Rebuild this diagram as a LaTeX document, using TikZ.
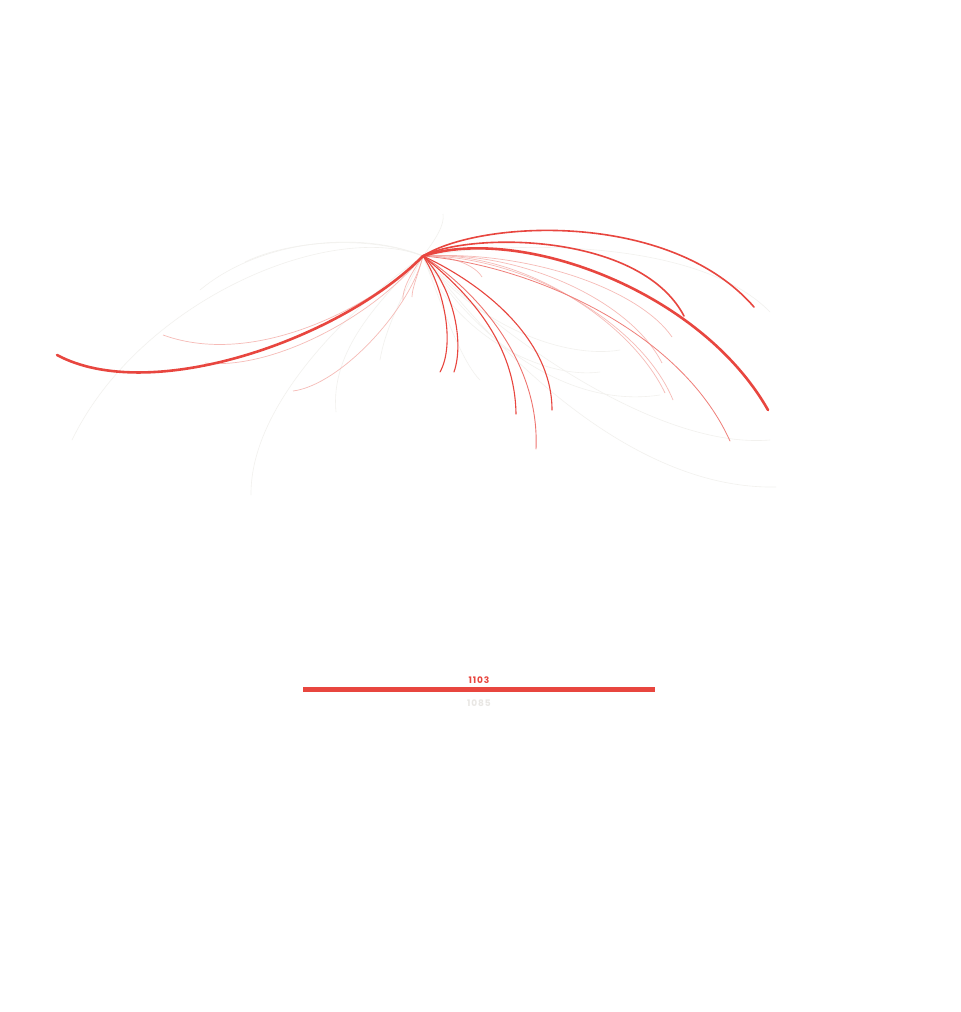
\documentclass[tikz,border=0pt]{standalone}
\usepackage{fontspec}
\newfontfamily\labelfont[LetterSpace=10]{Poppins}
\definecolor{flowred}{HTML}{E8463F}
\definecolor{flowpink}{HTML}{F4AAA5}
\definecolor{flowgrey}{HTML}{F2F1EE}
\definecolor{lblgrey}{HTML}{E9E7E4}
\tikzset{
  bigflow/.style={draw=flowred, line width=2.6pt, line cap=round},
  midflow/.style={draw=flowred, line width=1.6pt, line cap=round},
  thinflow/.style={draw=flowred, line width=1.1pt, line cap=round},
  pinkflow/.style={draw=flowpink, line width=0.7pt, opacity=0.8},
  greyflow/.style={draw=flowgrey, line width=0.6pt},
  barlbl/.style={font=\labelfont\bfseries\fontsize{9}{9}\selectfont, inner sep=0pt}
}
\begin{document}
\begin{tikzpicture}[x=1pt,y=-1pt]
\useasboundingbox (0,0) rectangle (961,1012);
\fill[white] (0,0) rectangle (961,1012);
\coordinate (hub) at (423,256);
% faint grey flows
\coordinate (g1) at (72,440);
\coordinate (g2) at (251,495);
\coordinate (g3) at (336,412);
\coordinate (g4) at (776,487);
\coordinate (g5) at (770,440);
\coordinate (g6) at (770,312);
\coordinate (g7) at (443,214);
\coordinate (g8) at (200,290);
\coordinate (g9) at (620,350);
\coordinate (g10) at (660,395);
\coordinate (g11) at (600,372);
\coordinate (g12) at (380,360);
\coordinate (g13) at (480,380);
\coordinate (g14) at (245,262);
\draw[greyflow] (hub) .. controls (330,220) and (140,300) .. (g1);
\draw[greyflow] (hub) .. controls (360,300) and (250,400) .. (g2);
\draw[greyflow] (hub) .. controls (380,300) and (330,350) .. (g3);
\draw[greyflow] (hub) .. controls (480,330) and (620,490) .. (g4);
\draw[greyflow] (hub) .. controls (480,320) and (650,450) .. (g5);
\draw[greyflow] (hub) .. controls (520,240) and (700,240) .. (g6);
\draw[greyflow] (hub) .. controls (435,240) and (445,225) .. (g7);
\draw[greyflow] (hub) .. controls (360,230) and (260,240) .. (g8);
\draw[greyflow] (hub) .. controls (470,320) and (560,360) .. (g9);
\draw[greyflow] (hub) .. controls (470,330) and (560,410) .. (g10);
\draw[greyflow] (hub) .. controls (450,330) and (540,380) .. (g11);
\draw[greyflow] (hub) .. controls (400,300) and (385,330) .. (g12);
\draw[greyflow] (hub) .. controls (440,300) and (460,360) .. (g13);
\draw[greyflow] (hub) .. controls (370,235) and (290,240) .. (g14);
% pink flows
\coordinate (p1) at (163,335);
\coordinate (p2) at (205,363);
\coordinate (p3) at (293,391);
\coordinate (p4) at (403,300);
\coordinate (p5) at (412,297);
\coordinate (p6) at (673,400);
\coordinate (p7) at (665,393);
\coordinate (p8) at (662,363);
\coordinate (p9) at (672,337);
\coordinate (p10) at (482,277);
\draw[pinkflow] (hub) .. controls (380,300) and (260,370) .. (p1);
\draw[pinkflow] (hub) .. controls (370,320) and (270,370) .. (p2);
\draw[pinkflow] (hub) .. controls (410,310) and (340,385) .. (p3);
\draw[pinkflow] (hub) .. controls (410,275) and (402,290) .. (p4);
\draw[pinkflow] (hub) .. controls (418,275) and (412,288) .. (p5);
\draw[pinkflow] (hub) .. controls (520,255) and (640,320) .. (p6);
\draw[pinkflow] (hub) .. controls (520,250) and (630,320) .. (p7);
\draw[pinkflow] (hub) .. controls (520,250) and (630,300) .. (p8);
\draw[pinkflow] (hub) .. controls (530,250) and (640,290) .. (p9);
\draw[pinkflow] (hub) .. controls (450,255) and (475,265) .. (p10);
% red flows
\coordinate (e1) at (57,355);
\coordinate (e2) at (768,410);
\coordinate (e3) at (754,307);
\coordinate (e4) at (684,316);
\coordinate (e5) at (440,372);
\coordinate (e6) at (454,372);
\coordinate (e7) at (516,414);
\coordinate (e8) at (552,410);
\coordinate (e9) at (536,449);
\coordinate (e10) at (730,441);
\draw[thinflow, draw=flowred!70, line width=0.8pt] (hub) .. controls (530,265) and (680,330) .. (e10);
\draw[thinflow, draw=flowred!75, line width=0.9pt] (hub) .. controls (475,290) and (540,360) .. (e9);
\draw[thinflow] (hub) .. controls (465,290) and (515,340) .. (e7);
\draw[thinflow] (hub) .. controls (485,285) and (552,340) .. (e8);
\draw[thinflow] (hub) .. controls (445,290) and (455,345) .. (e5);
\draw[thinflow] (hub) .. controls (452,285) and (465,340) .. (e6);
\draw[midflow] (hub) .. controls (470,232) and (640,232) .. (e4);
\draw[midflow] (hub) .. controls (480,220) and (670,210) .. (e3);
\draw[bigflow] (hub) .. controls (520,225) and (700,290) .. (e2);
\draw[bigflow] (hub) .. controls (340,340) and (150,405) .. (e1);
% legend bar
\coordinate (bl) at (303,689);
\coordinate (br) at (655,689);
\draw[draw=flowred, line width=5pt] (bl) -- (br);
\node[barlbl, text=flowred] (v1) at (479,680.5) {1103};
\node[barlbl, text=lblgrey] (v2) at (479,703.5) {1085};
\end{tikzpicture}
\end{document}
